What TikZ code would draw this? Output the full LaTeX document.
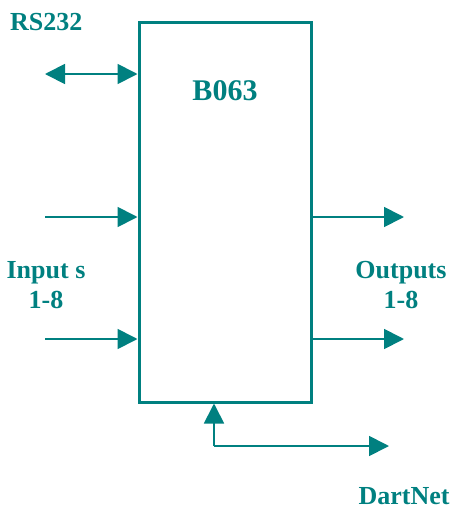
\documentclass[tikz,border=0pt]{standalone}
\usepackage{fontspec}
\setmainfont{Liberation Serif}
\usetikzlibrary{arrows.meta}
\definecolor{teal}{RGB}{0,128,128}
\tikzset{
  conn/.style={draw=teal, line width=1.8pt, -{Triangle[length=20pt,width=20pt]}},
  lbl/.style={text=teal, font=\bfseries\fontsize{26}{30}\selectfont, align=center, inner sep=0pt},
}
\begin{document}
\begin{tikzpicture}[x=1pt,y=-1pt]
\useasboundingbox (0,0) rectangle (454,509);
\node[draw=teal, line width=3pt, minimum width=172pt, minimum height=380pt, inner sep=0pt] (box) at (225,212) {};
\node[lbl, font=\bfseries\fontsize{30}{34}\selectfont] (title) at (225,91) {B063};
\node[lbl, anchor=west] (rs) at (10,22) {RS232};
\coordinate (rsL) at (45,74);
\coordinate (rsR) at (box.west |- 0,74);
\draw[conn, {Triangle[length=20pt,width=20pt]}-{Triangle[length=20pt,width=20pt]}] (rsL) -- (rsR);
\coordinate (i1) at (45,217);
\coordinate (i2) at (45,339);
\draw[conn] (i1) -- (box.west |- i1);
\draw[conn] (i2) -- (box.west |- i2);
\coordinate (o1) at (404,217);
\coordinate (o2) at (404,339);
\draw[conn] (box.east |- o1) -- (o1);
\draw[conn] (box.east |- o2) -- (o2);
\node[lbl] (inl) at (46,285) {Input s\\1-8};
\node[lbl] (outl) at (401,285) {Outputs\\1-8};
\coordinate (dn) at (214,446);
\coordinate (dnE) at (389,446);
\draw[conn] (dn) -- (dn |- box.south);
\draw[conn] (dn) -- (dnE);
\node[lbl] (dart) at (404,496) {DartNet};
\end{tikzpicture}
\end{document}
